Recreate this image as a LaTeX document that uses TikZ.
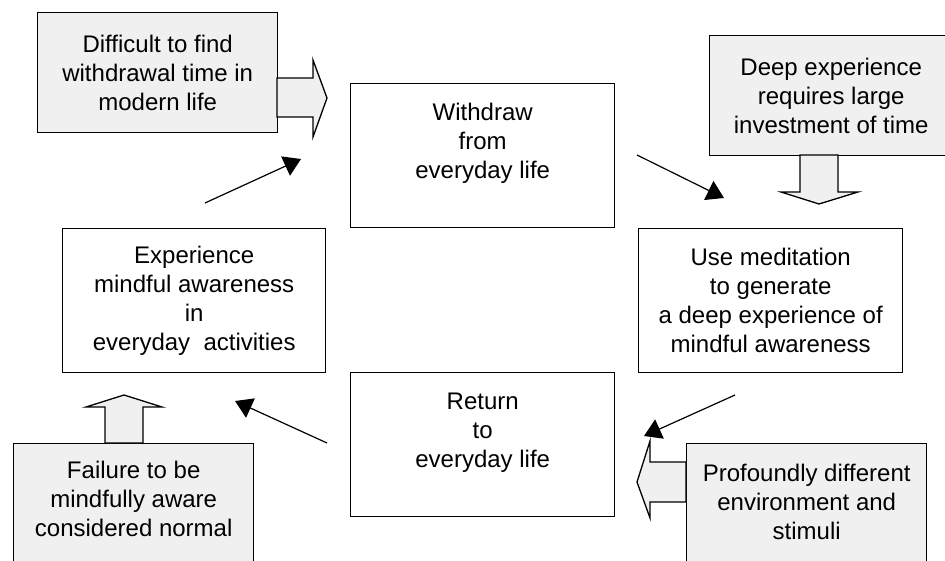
\documentclass[tikz,border=0pt]{standalone}
\usepackage{fontspec}
\setmainfont{Liberation Sans}
\usetikzlibrary{positioning, arrows.meta}
\definecolor{boxgray}{RGB}{240,240,240}
\tikzset{
  box/.style      = {draw, line width=1.4pt, fill=white, align=center, inner sep=0pt,
                     anchor=north west, font=\fontsize{24}{29}\selectfont},
  greybox/.style  = {box, fill=boxgray},
  blockarrow/.style = {draw, line width=1.3pt, fill=boxgray, line join=miter},
  arrow/.style    = {-{Triangle[length=17pt, width=21pt]}, line width=1.2pt},
}

\begin{document}
\begin{tikzpicture}[x=1pt, y=-1pt]
  \useasboundingbox (0,0) rectangle (945,561);
  \clip (0,0) rectangle (945,561);

  % cycle of boxes
  \node[box] at (350, 83)  (withdraw) [minimum width=264pt, minimum height=144pt]
        {Withdraw\\from\\everyday life\\~};
  \node[box] at (638,228)  (usemed)   [minimum width=264pt, minimum height=144pt]
        {Use meditation\\to generate\\ a deep experience of\\mindful awareness};
  \node[box] at (350,372)  (ret)      [minimum width=264pt, minimum height=144pt]
        {Return\\to\\everyday life\\~};
  \node[box] at ( 62,228)  (exper)    [minimum width=263pt, minimum height=144pt]
        {Experience\\mindful awareness\\in\\everyday\ \ activities};

  % obstacles
  \node[greybox] at ( 37, 12) (diff)    [minimum width=240pt, minimum height=120pt]
        {Difficult to find\\withdrawal time in\\modern life};
  \node[greybox] at (709, 35) (deep)    [minimum width=243pt, minimum height=120pt]
        {Deep experience\\requires large\\investment of time};
  \node[greybox] at ( 13,443) (fail)    [minimum width=240pt, inner ysep=17pt, text depth=120pt]
        {Failure to be\\mindfully aware\\considered normal};
  \node[greybox] at (686,443) (profound)[minimum width=240pt, inner ysep=20pt, text depth=120pt]
        {Profoundly different\\environment and\\stimuli};

  % block arrows
  \draw[blockarrow] (277,78) -- (313,78) -- (313,60) -- (327,98) -- (313,137) -- (313,117) -- (277,117) -- cycle;
  \draw[blockarrow] (800,155) -- (800,192) -- (781,192) -- (819,204) -- (858,192) -- (838,192) -- (838,155) -- cycle;
  \draw[blockarrow] (105,443) -- (105,407) -- (86,407) -- (124,395) -- (162,407) -- (143,407) -- (143,443) -- cycle;
  \draw[blockarrow] (686,462) -- (650,462) -- (650,441) -- (637,482) -- (650,518) -- (650,502) -- (686,502) -- cycle;

  % cycle arrows
  \coordinate (a1s) at (205,203);  \coordinate (a1e) at (301,159);
  \coordinate (a2s) at (637,155);  \coordinate (a2e) at (724,198);
  \coordinate (a3s) at (735,395);  \coordinate (a3e) at (644,436);
  \coordinate (a4s) at (327,443);  \coordinate (a4e) at (235,401);
  \draw[arrow] (a1s) -- (a1e);
  \draw[arrow] (a2s) -- (a2e);
  \draw[arrow] (a3s) -- (a3e);
  \draw[arrow] (a4s) -- (a4e);
\end{tikzpicture}
\end{document}
